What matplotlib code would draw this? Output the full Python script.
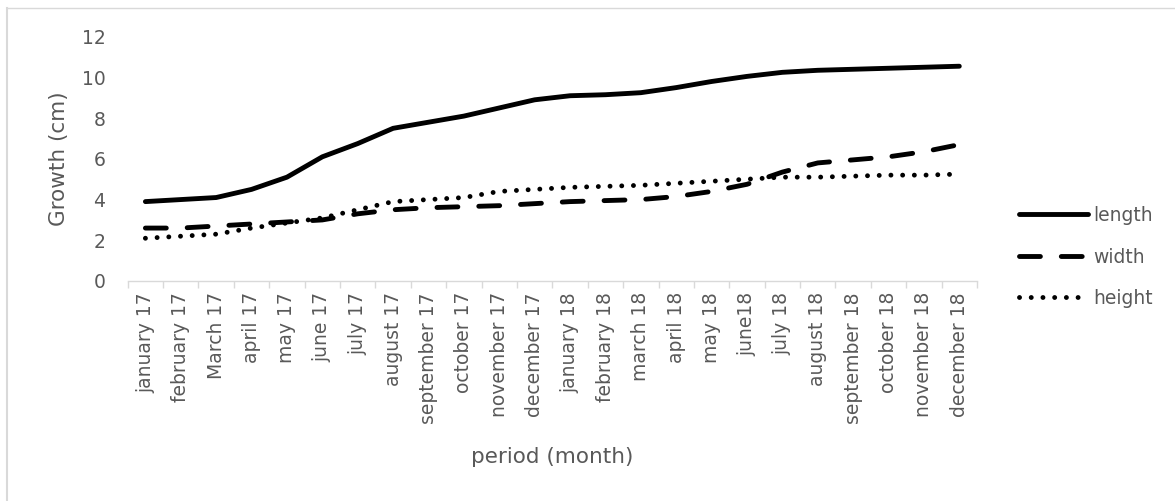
import matplotlib
matplotlib.use("Agg")
import matplotlib.pyplot as plt
from matplotlib.lines import Line2D

months = ["january 17", "february 17", "March 17", "april 17", "may 17", "june 17",
          "july 17", "august 17", "september 17", "october 17", "november 17", "december 17",
          "january 18", "february 18", "march 18", "april 18", "may 18", "june18",
          "july 18", "august 18", "september 18", "october 18", "november 18", "december 18"]
length = [3.9, 4.0, 4.1, 4.5, 5.1, 6.1, 6.75, 7.5, 7.8, 8.1, 8.5, 8.9,
          9.1, 9.15, 9.25, 9.5, 9.8, 10.05, 10.25, 10.35, 10.4, 10.45, 10.5, 10.55]
width = [2.6, 2.6, 2.7, 2.8, 2.9, 3.0, 3.3, 3.5, 3.6, 3.65, 3.7, 3.8,
         3.9, 3.95, 4.0, 4.15, 4.4, 4.75, 5.35, 5.8, 5.95, 6.1, 6.35, 6.7]
height = [2.1, 2.2, 2.3, 2.6, 2.85, 3.1, 3.5, 3.9, 4.0, 4.1, 4.4, 4.5,
          4.6, 4.65, 4.7, 4.8, 4.9, 5.0, 5.1, 5.1, 5.15, 5.2, 5.2, 5.25]

plt.rcParams['font.family'] = ['DejaVu Sans']
gray = '#595959'

W, H = 1175, 501
fig = plt.figure(figsize=(W / 100, H / 100), dpi=100)
ax = fig.add_axes([127.7 / W, 1 - 281 / H, (977 - 127.7) / W, (281 - 36.7) / H])

x = list(range(len(months)))
lw = 3.5
ax.plot(x, length, color='black', lw=lw, solid_capstyle='round', solid_joinstyle='round', label='length')
ax.plot(x, width, color='black', lw=lw, dashes=(4.3, 4.3), dash_capstyle='round', label='width')
ax.plot(x, height, color='black', lw=lw, dashes=(0.01, 2.4), dash_capstyle='round', label='height')

ax.set_xlim(-0.5, len(months) - 0.5)
ax.set_ylim(0, 12)
ax.set_yticks(range(0, 13, 2))
ax.tick_params(axis='y', length=0, labelsize=13.5, labelcolor=gray, pad=16)
ax.set_xticks(x)
ax.set_xticklabels(months, rotation=90, fontsize=13.5, color=gray)
ax.tick_params(axis='x', length=0, pad=8)
ax.set_xticks([i - 0.5 for i in range(len(months) + 1)], minor=True)
ax.tick_params(axis='x', which='minor', length=5, color='#d9d9d9', width=1)

for s in ['top', 'right', 'left']:
    ax.spines[s].set_visible(False)
ax.spines['bottom'].set_color('#d9d9d9')
ax.spines['bottom'].set_linewidth(1)

ax.set_ylabel('Growth (cm)', fontsize=15.5, color=gray, labelpad=9)
ax.set_xlabel('period (month)', fontsize=15.5, color=gray, labelpad=17)

leg = ax.legend(loc='center left', bbox_to_anchor=(1.038, 0.098), frameon=False,
                fontsize=13.5, labelcolor=gray, handlelength=3.7, handletextpad=0.3,
                labelspacing=1.2, borderpad=0)

# chart-area border (left and top edges visible)
fig.add_artist(Line2D([7 / W, 7 / W], [0, 1 - 8 / H], transform=fig.transFigure,
                      color='#d9d9d9', lw=1.5))
fig.add_artist(Line2D([7 / W, 1], [1 - 8 / H, 1 - 8 / H], transform=fig.transFigure,
                      color='#d9d9d9', lw=1))

fig.savefig('out.png', dpi=100)
